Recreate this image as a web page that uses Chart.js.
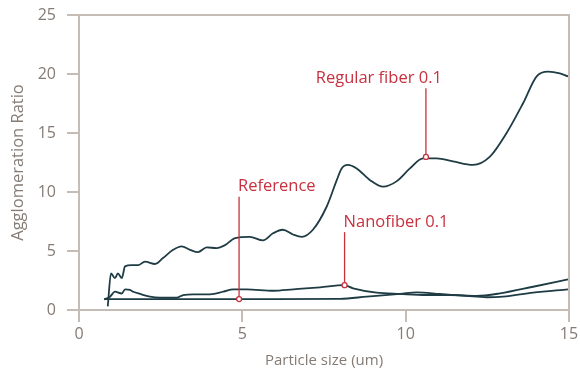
<!DOCTYPE html>
<html>
<head>
<meta charset="utf-8">
<script src="https://cdn.jsdelivr.net/npm/chart.js@4.4.1/dist/chart.umd.min.js"></script>
<style>
  html, body { margin: 0; padding: 0; background: #fff; }
  #wrap { width: 580px; height: 370px; }
</style>
</head>
<body>
<div id="wrap"><canvas id="chart"></canvas></div>
<script>
// series data (x = particle size um, y = agglomeration ratio)
const regularX = [0.88, 0.98, 1.10, 1.19, 1.31, 1.41, 1.61, 1.81, 2.02, 2.33, 2.57, 2.88, 3.14, 3.40, 3.64, 3.91, 4.21, 4.47, 4.78, 5.23, 5.63, 5.94, 6.24, 6.55, 6.82, 7.16, 7.58, 7.89, 8.04, 8.23, 8.50, 8.91, 9.31, 9.72, 10.13, 10.53, 10.95, 11.45, 12.06, 12.58, 13.09, 13.59, 14.01, 14.36, 14.72, 14.97];
const regularY = [0.3, 3.1, 2.7, 3.1, 2.7, 3.7, 3.8, 3.8, 4.1, 3.9, 4.4, 5.1, 5.4, 5.1, 4.9, 5.3, 5.25, 5.5, 6.1, 6.2, 5.9, 6.5, 6.8, 6.4, 6.2, 6.8, 8.75, 11.0, 12.0, 12.3, 12.0, 11.0, 10.45, 10.9, 12.0, 12.85, 12.85, 12.6, 12.3, 13.0, 15.0, 17.5, 19.8, 20.2, 20.05, 19.8];

const nanoX = [0.77, 0.95, 1.10, 1.31, 1.41, 1.56, 1.66, 1.87, 2.17, 2.48, 2.99, 3.19, 3.50, 4.01, 4.42, 4.72, 5.13, 5.95, 6.56, 7.38, 8.12, 8.39, 9.11, 9.83, 10.64, 11.36, 12.17, 12.89, 13.90, 14.97];
const nanoY = [0.9, 1.13, 1.55, 1.4, 1.75, 1.7, 1.55, 1.36, 1.13, 1.04, 1.04, 1.27, 1.33, 1.33, 1.55, 1.75, 1.75, 1.63, 1.75, 1.92, 2.1, 1.84, 1.47, 1.36, 1.27, 1.27, 1.19, 1.41, 1.97, 2.6];

const refX = [0.77, 2.0, 4.0, 6.0, 7.99, 8.81, 9.83, 10.34, 11.05, 11.87, 12.48, 12.98, 13.90, 14.97];
const refY = [0.93, 0.93, 0.93, 0.93, 0.95, 1.13, 1.36, 1.5, 1.36, 1.19, 1.08, 1.13, 1.47, 1.75];

const xTicks = [0, 5, 10, 15];
const yTicks = [0, 5, 10, 15, 20, 25];

// callout labels: anchor point on the curve and the height the leader line reaches
const noteText = ['Regular fiber 0.1', 'Reference', 'Nanofiber 0.1'];
const noteX = [10.62, 4.9, 8.13];
const noteY = [12.97, 0.93, 2.1];
const noteTop = [18.8, 9.6, 6.6];

const GREY = '#c6bcb6';
const TEXT = '#857b75';
const LINE = '#1f3c45';
const RED = '#c8313f';
const FONT = '"Open Sans", Lato, sans-serif';

function pts(xs, ys) { return xs.map((x, i) => ({ x: x, y: ys[i] })); }

const callouts = {
  id: 'callouts',
  afterDatasetsDraw(chart) {
    const { ctx, scales: { x, y }, chartArea } = chart;
    ctx.save();
    // top and right frame lines
    ctx.strokeStyle = GREY;
    ctx.lineWidth = 2;
    ctx.beginPath();
    ctx.moveTo(chartArea.left, chartArea.top);
    ctx.lineTo(chartArea.right, chartArea.top);
    ctx.lineTo(chartArea.right, chartArea.bottom);
    ctx.stroke();

    ctx.font = '16.5px ' + FONT;
    ctx.textBaseline = 'bottom';
    noteText.forEach((t, i) => {
      const px = x.getPixelForValue(noteX[i]);
      const py = y.getPixelForValue(noteY[i]);
      const top = y.getPixelForValue(noteTop[i]);
      ctx.strokeStyle = RED;
      ctx.lineWidth = 1.3;
      ctx.beginPath();
      ctx.moveTo(px, py);
      ctx.lineTo(px, top);
      ctx.stroke();
      ctx.beginPath();
      ctx.arc(px, py, 2.5, 0, Math.PI * 2);
      ctx.fillStyle = '#fff';
      ctx.fill();
      ctx.stroke();
      ctx.fillStyle = RED;
      const w = ctx.measureText(t).width;
      const tx = i === 0 ? px - w + 16 : px - 1;
      ctx.fillText(t, tx, top - 2);
    });
    ctx.restore();
  }
};

const lineStyle = {
  borderColor: LINE,
  borderWidth: 1.8,
  pointRadius: 0,
  fill: false,
  cubicInterpolationMode: 'monotone'
};

new Chart(document.getElementById('chart'), {
  type: 'line',
  data: {
    datasets: [
      Object.assign({ label: 'Regular fiber 0.1', data: pts(regularX, regularY) }, lineStyle),
      Object.assign({ label: 'Nanofiber 0.1', data: pts(nanoX, nanoY) }, lineStyle),
      Object.assign({ label: 'Reference', data: pts(refX, refY) }, lineStyle)
    ]
  },
  options: {
    responsive: true,
    maintainAspectRatio: false,
    animation: false,
    layout: { padding: { top: 15, right: 11, left: 0, bottom: 0 } },
    plugins: { legend: { display: false }, tooltip: { enabled: false } },
    scales: {
      x: {
        type: 'linear',
        min: 0, max: 15,
        afterBuildTicks: s => { s.ticks = xTicks.map(v => ({ value: v })); },
        afterFit: s => { s.height = 60; s.paddingLeft = 0; s.paddingRight = 0; },
        border: { color: GREY, width: 2 },
        grid: { drawOnChartArea: false, color: GREY, lineWidth: 2, tickLength: 12 },
        ticks: { color: TEXT, font: { family: FONT, size: 16 }, padding: 3, maxRotation: 0 },
        title: { display: true, text: 'Particle size (um)', color: TEXT, font: { family: FONT, size: 15 }, padding: { top: 0, bottom: 0 } }
      },
      y: {
        min: 0, max: 25,
        afterBuildTicks: s => { s.ticks = yTicks.map(v => ({ value: v })); },
        afterFit: s => { s.width = 79; s.paddingTop = 0; s.paddingBottom = 0; },
        border: { color: GREY, width: 2 },
        grid: { drawOnChartArea: false, color: GREY, lineWidth: 2, tickLength: 12 },
        ticks: { color: TEXT, font: { family: FONT, size: 16 }, padding: 11 },
        title: { display: true, text: 'Agglomeration Ratio', color: TEXT, font: { family: FONT, size: 16.5 }, padding: { top: 8, bottom: 0 } }
      }
    }
  },
  plugins: [callouts]
});
</script>
</body>
</html>
